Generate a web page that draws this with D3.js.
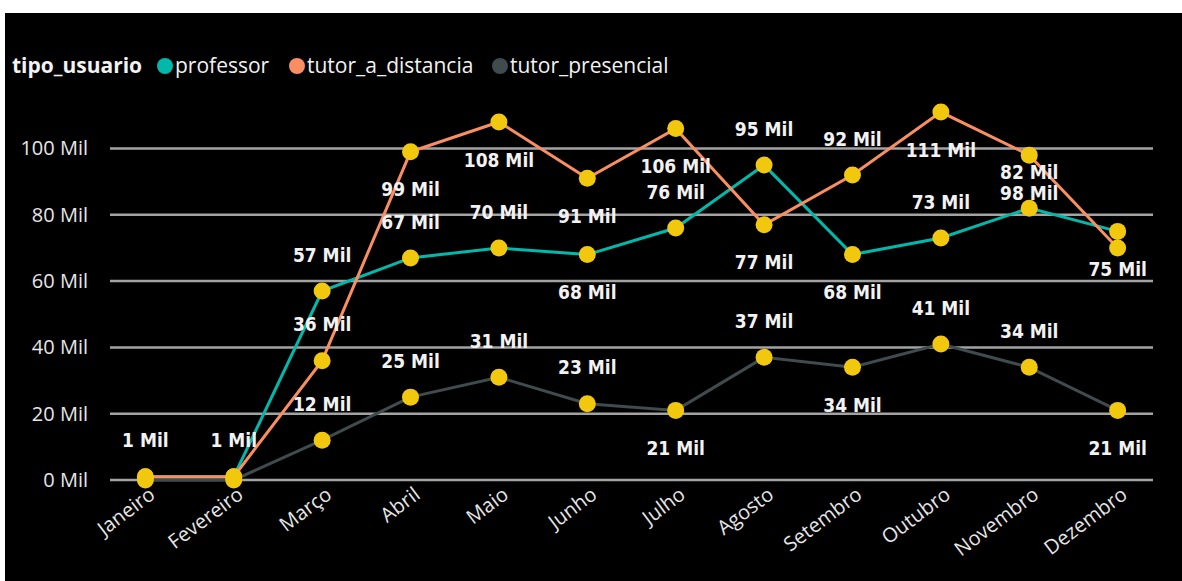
<!DOCTYPE html>
<html>
<head>
<meta charset="utf-8">
<script src="https://cdnjs.cloudflare.com/ajax/libs/d3/7.8.5/d3.min.js"></script>
<style>
  html, body { margin: 0; padding: 0; background: #fff; }
  svg { display: block; }
</style>
</head>
<body>
<script>
// Chart data (values in thousands)
var meses = ['Janeiro', 'Fevereiro', 'Março', 'Abril', 'Maio', 'Junho', 'Julho',
             'Agosto', 'Setembro', 'Outubro', 'Novembro', 'Dezembro'];
var professor = [1, 1, 57, 67, 70, 68, 76, 95, 68, 73, 82, 75];
var tutorDistancia = [1, 1, 36, 99, 108, 91, 106, 77, 92, 111, 98, 70];
var tutorPresencial = [0, 0, 12, 25, 31, 23, 21, 37, 34, 41, 34, 21];
var yTicks = [0, 20, 40, 60, 80, 100];
var seriesNames = ['professor', 'tutor_a_distancia', 'tutor_presencial'];

// which labels are shown and where (u = above, d = below, '' = hidden)
var labelSide = {
    professor:         ['', '', 'u', 'u', 'u', 'd', 'u', 'u', 'd', 'u', 'u', 'd'],
    tutor_a_distancia: ['u', 'u', 'u', 'd', 'd', 'd', 'd', 'd', 'u', 'd', 'd', ''],
    tutor_presencial:  ['', '', 'u', 'u', 'u', 'u', 'd', 'u', 'd', 'u', 'u', 'd']
};

var colors = {
    professor: '#01B8AA',
    tutor_a_distancia: '#F98E63',
    tutor_presencial: '#3F4B4D'
};

var W = 1182, H = 581;
var margin = {top: 112, right: 29, bottom: 101, left: 110};
var width = W - margin.left - margin.right,
    height = H - margin.top - margin.bottom;

var svg = d3.select('body').append('svg')
    .attr('width', W)
    .attr('height', H);

// white frame at top/left, black panel
svg.append('rect').attr('width', W).attr('height', H).attr('fill', '#fff');
svg.append('rect').attr('x', 5).attr('y', 13).attr('width', W - 5).attr('height', H - 13).attr('fill', '#000');

var x = d3.scalePoint().domain(meses).range([0, width]).padding(0.4);
var y = d3.scaleLinear().domain([0, 100]).range([height, height - 331.5]);

var chart = svg.append('g')
    .attr('transform', 'translate(' + margin.left + ',' + margin.top + ')');

// gridlines
chart.selectAll('.grid')
    .data(yTicks)
    .enter().append('line')
    .attr('x1', 0).attr('x2', width)
    .attr('y1', function(d) { return y(d); })
    .attr('y2', function(d) { return y(d); })
    .attr('stroke', '#a3a3a3')
    .attr('stroke-width', 2.5);

// y axis
var yAxis = d3.axisLeft(y).tickValues(yTicks).tickSize(0).tickPadding(22)
    .tickFormat(function(d) { return d + ' Mil'; });
var gy = chart.append('g').call(yAxis);
gy.select('.domain').remove();
gy.selectAll('text')
    .attr('fill', '#e6e6e6')
    .style('font-family', '"Open Sans", "Noto Sans", sans-serif')
    .style('font-size', '20px');

// x axis
var xAxis = d3.axisBottom(x).tickSize(0).tickPadding(10);
var gx = chart.append('g')
    .attr('transform', 'translate(0,' + height + ')')
    .call(xAxis);
gx.select('.domain').remove();
gx.selectAll('text')
    .attr('fill', '#e6e6e6')
    .style('font-family', '"Open Sans", "Noto Sans", sans-serif')
    .style('font-size', '20px')
    .style('text-anchor', 'end')
    .attr('dx', '-0.1em')
    .attr('dy', '0.5em')
    .attr('transform', 'rotate(-37)');

var seriesData = {
    professor: professor,
    tutor_a_distancia: tutorDistancia,
    tutor_presencial: tutorPresencial
};

var line = d3.line()
    .x(function(d, i) { return x(meses[i]); })
    .y(function(d) { return y(d); });

// lines, drawn bottom to top
['tutor_presencial', 'professor', 'tutor_a_distancia'].forEach(function(name) {
    chart.append('path')
        .datum(seriesData[name])
        .attr('fill', 'none')
        .attr('stroke', colors[name])
        .attr('stroke-width', 3)
        .attr('d', line);
});

// markers
seriesNames.forEach(function(name) {
    chart.selectAll('.dot-' + name)
        .data(seriesData[name])
        .enter().append('circle')
        .attr('cx', function(d, i) { return x(meses[i]); })
        .attr('cy', function(d) { return y(d); })
        .attr('r', 8.5)
        .attr('fill', '#F2C80F');
});

// data labels
seriesNames.forEach(function(name) {
    seriesData[name].forEach(function(v, i) {
        var side = labelSide[name][i];
        if (!side) return;
        chart.append('text')
            .attr('x', x(meses[i]))
            .attr('y', y(v) + (side === 'u' ? -36 : 38))
            .attr('dy', '0.35em')
            .attr('text-anchor', 'middle')
            .attr('fill', '#f2f2f2')
            .style('font-family', '"DejaVu Sans Condensed", "DejaVu Sans", sans-serif')
            .style('font-weight', 'bold')
            .style('font-size', '19px')
            .text(v + ' Mil');
    });
});

// legend
var legend = svg.append('g').attr('transform', 'translate(12,66)');
legend.append('text')
    .attr('x', 0).attr('dy', '0.35em')
    .attr('fill', '#f2f2f2')
    .style('font-family', '"Open Sans", "Noto Sans", sans-serif')
    .style('font-weight', 'bold')
    .style('font-size', '21px')
    .text('tipo_usuario');
var legX = [153, 285, 488];
seriesNames.forEach(function(name, i) {
    legend.append('circle')
        .attr('cx', legX[i]).attr('cy', 0).attr('r', 8)
        .attr('fill', colors[name]);
    legend.append('text')
        .attr('x', legX[i] + 10).attr('dy', '0.35em')
        .attr('fill', '#f2f2f2')
        .style('font-family', '"Open Sans", "Noto Sans", sans-serif')
        .style('font-size', '21px')
        .text(name);
});
</script>
</body>
</html>
